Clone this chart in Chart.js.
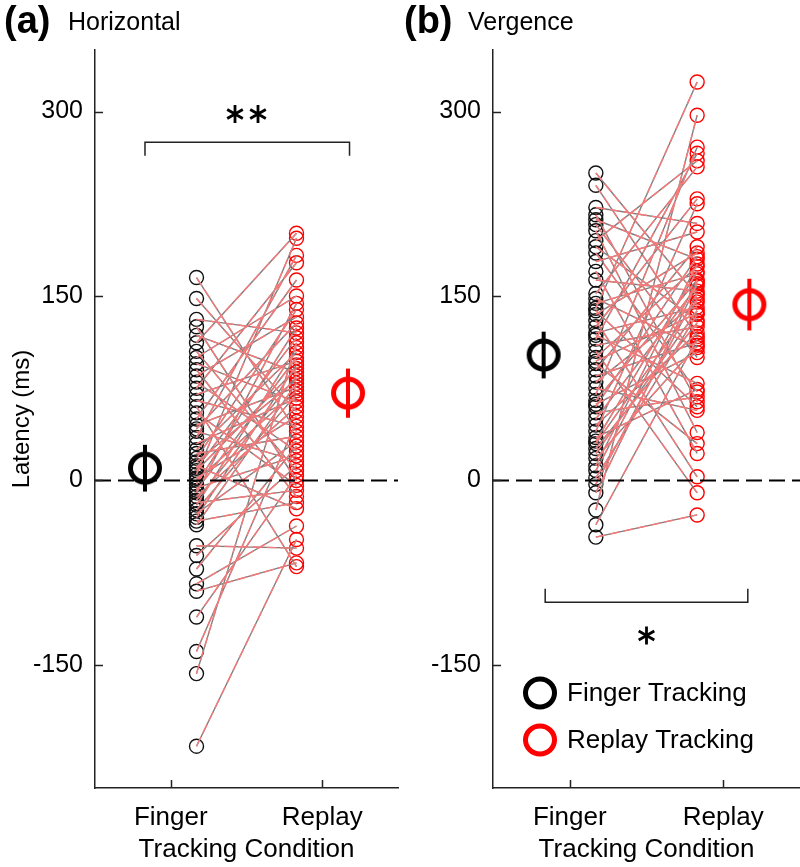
<!DOCTYPE html>
<html>
<head>
<meta charset="utf-8">
<script src="https://cdn.jsdelivr.net/npm/chart.js@4.4.1/dist/chart.umd.min.js"></script>
<style>
  html, body { margin: 0; padding: 0; background: #fff; }
  #wrap { position: relative; width: 800px; height: 867px; }
  .panel { position: absolute; top: 0; width: 400px; height: 867px; }
</style>
</head>
<body>
<div id="wrap">
  <div class="panel" style="left:0"><canvas id="chartA" width="400" height="867"></canvas></div>
  <div class="panel" style="left:400px"><canvas id="chartB" width="400" height="867"></canvas></div>
</div>
<script>
const categories = ["Finger", "Replay"];
const yTicks = [-150, 0, 150, 300];

// (a) horizontal latency per subject, same order in both arrays (ms)
const horizFinger = [165, 148, 131, 125, 118, 112, 105, 100, 95, 90, 85, 80, 75, 70, 65, 60, 55, 50, 45, 42,
  40, 35, 30, 25, 22, 18, 15, 12, 10, 8, 5, 2, 0, -3, -6, -8, -10, -13, -16, -18,
  -20, -24, -27, -30, -33, -36, -53, -61, -72, -84, -90, -111, -139, -157, -216];
const horizReplay = [40, 56, 120, 0, 88, 201, 8, 150, 64, -13, 133, 24, 177, 97, 44, -70, -4, 163, 76, 128,
  16, 183, 67, 104, 36, 139, 82, -23, 116, 91, 197, 52, 73, 124, 20, 100, 144, 60, 85, -8,
  108, 70, 32, 94, -18, 79, -55, 12, 28, -37, -67, 4, 48, 112, -48];

// (b) vergence latency per subject (ms)
const vergFinger = [250, 240, 222, 216, 212, 208, 203, 195, 190, 185, 178, 170, 163, 152, 148, 144, 140, 138, 135, 130,
  125, 120, 118, 115, 110, 105, 100, 97, 95, 90, 85, 80, 75, 70, 65, 62, 60, 55, 50, 45,
  40, 35, 32, 30, 26, 22, 18, 12, 8, 2, -3, -10, -24, -36, -46];
const vergReplay = [150, 117, 209, 64, 180, 100, 39, 260, 130, 72, 202, 22, 154, 255, 108, 168, 324, 60, 185, 3,
  229, 141, 79, 266, 125, -10, 174, 136, 30, 190, 112, 145, 57, 271, 163, 104, 182, 68, 158, 120,
  225, 74, 170, 147, 128, 138, 110, 176, 162, 135, 152, 160, 297, 115, -28];

// group mean and error bar half-length (ms)
const horizMeans = [10, 71];
const horizErr = [19, 20];
const vergMeans = [102, 143];
const vergErr = [19, 21];

const subjX = [1.17, 1.83];
const meanX = [0.83, 2.17];
const FONT = "'Liberation Sans', Arial, sans-serif";

function ringImage(color) {
  const c = document.createElement("canvas");
  c.width = 40; c.height = 40;
  const g = c.getContext("2d");
  g.strokeStyle = color;
  g.lineWidth = 5;
  g.beginPath();
  g.ellipse(20, 20, 14.5, 14, 0, 0, Math.PI * 2);
  g.stroke();
  return c;
}
const ringBlack = ringImage("#000");
const ringRed = ringImage("#ff0000");

function pairLines(f, r) {
  const pts = [];
  f.forEach((v, i) => {
    pts.push({x: subjX[0], y: v}, {x: subjX[1], y: r[i]}, {x: subjX[1], y: null});
  });
  return pts;
}

// six-spoke asterisk like the original figure
function star(ctx, cx, cy) {
  const r = 9;
  ctx.beginPath();
  for (let k = 0; k < 3; k++) {
    const a = Math.PI / 2 + k * Math.PI / 3;
    ctx.moveTo(cx - r * Math.cos(a), cy - r * Math.sin(a));
    ctx.lineTo(cx + r * Math.cos(a), cy + r * Math.sin(a));
  }
  ctx.stroke();
}

const annot = {
  id: "annot",
  afterDraw(chart, args, opts) {
    const ctx = chart.ctx;
    const xs = chart.scales.x, ys = chart.scales.y;
    const area = chart.chartArea;
    ctx.save();
    // inward tick marks
    ctx.strokeStyle = "#222";
    ctx.lineWidth = 1.5;
    ctx.beginPath();
    yTicks.forEach(v => {
      const p = Math.round(ys.getPixelForValue(v)) + 0.5;
      ctx.moveTo(area.left, p); ctx.lineTo(area.left + 8, p);
    });
    [1, 2].forEach(v => {
      const p = Math.round(xs.getPixelForValue(v)) + 0.5;
      ctx.moveTo(p, area.bottom); ctx.lineTo(p, area.bottom - 8);
    });
    ctx.stroke();

    // panel label
    ctx.fillStyle = "#000";
    ctx.textBaseline = "alphabetic";
    ctx.textAlign = "left";
    ctx.font = "bold 38px " + FONT;
    ctx.fillText(opts.tag, 4, 33);
    ctx.font = "25px " + FONT;
    ctx.fillText(opts.name, 68, 30);

    // significance stars
    ctx.strokeStyle = "#000";
    ctx.lineWidth = 2.8;
    const sx = xs.getPixelForValue(1.5), sy = ys.getPixelForValue(opts.starY);
    for (let k = 0; k < opts.stars; k++) {
      star(ctx, sx + (k - (opts.stars - 1) / 2) * 23, sy);
    }

    if (opts.legend) {
      const items = [["Finger Tracking", ringBlack, 693], ["Replay Tracking", ringRed, 740]];
      ctx.textAlign = "left";
      ctx.textBaseline = "middle";
      ctx.font = "26px " + FONT;
      items.forEach(([label, img, y]) => {
        ctx.drawImage(img, 140 - img.width / 2, y - img.height / 2);
        ctx.fillText(label, 167, y + 1);
      });
    }
    ctx.restore();
  }
};

function buildChart(id, finger, replay, means, err, cfg) {
  const datasets = [
    {
      data: [{x: 0.5, y: 0}, {x: 2.5, y: 0}],
      showLine: true, borderColor: "#000", borderWidth: 2, borderDash: [16, 7],
      pointRadius: 0, order: 1
    },
    {
      data: pairLines(finger, replay),
      showLine: true, spanGaps: false, borderColor: "rgb(125,125,125)", borderWidth: 1.4,
      pointRadius: 0, order: 3
    },
    {
      data: pairLines(finger, replay),
      showLine: true, spanGaps: false, borderColor: "rgb(246,122,122)", borderWidth: 1.4,
      borderDash: [10, 4], pointRadius: 0, order: 2
    },
    {
      data: finger.map(v => ({x: subjX[0], y: v})),
      pointRadius: 7, borderWidth: 1.4, borderColor: "#111", backgroundColor: "rgba(0,0,0,0)", order: 5
    },
    {
      data: replay.map(v => ({x: subjX[1], y: v})),
      pointRadius: 7, borderWidth: 1.4, borderColor: "#ff0000", backgroundColor: "rgba(0,0,0,0)", order: 4
    },
    {
      data: [{x: meanX[0], y: means[0] - err[0]}, {x: meanX[0], y: means[0] + err[0]}],
      showLine: true, borderColor: "#000", borderWidth: 4, pointRadius: 0, order: 1
    },
    {
      data: [{x: meanX[1], y: means[1] - err[1]}, {x: meanX[1], y: means[1] + err[1]}],
      showLine: true, borderColor: "#ff0000", borderWidth: 4, pointRadius: 0, order: 1
    },
    {
      data: [{x: meanX[0], y: means[0]}],
      pointStyle: ringBlack, pointRadius: 18, order: 0
    },
    {
      data: [{x: meanX[1], y: means[1]}],
      pointStyle: ringRed, pointRadius: 18, order: 0
    },
    {
      data: cfg.bracket,
      showLine: true, borderColor: "#222", borderWidth: 1.5, pointRadius: 0, order: 1
    }
  ];

  return new Chart(document.getElementById(id), {
    type: "scatter",
    data: {datasets: datasets},
    options: {
      responsive: false,
      animation: false,
      events: [],
      layout: {autoPadding: false, padding: {top: 50, right: cfg.padRight, left: 0, bottom: 0}},
      plugins: {
        legend: {display: false},
        tooltip: {enabled: false},
        annot: cfg.annot
      },
      scales: {
        x: {
          type: "linear", min: 0.5, max: 2.5,
          afterBuildTicks: s => { s.ticks = [{value: 1}, {value: 2}]; },
          afterFit: s => { s.height = 79; s.paddingLeft = 0; s.paddingRight = 0; },
          grid: {display: false, drawTicks: false},
          border: {display: true, color: "#222", width: 1.5},
          ticks: {
            padding: 14, color: "#000", font: {family: FONT, size: 26},
            callback: v => categories[v - 1]
          },
          title: {
            display: true, text: "Tracking Condition", color: "#000",
            font: {family: FONT, size: 26}, padding: {top: 0, bottom: 2}
          }
        },
        y: {
          type: "linear", min: -250, max: 350,
          afterBuildTicks: s => { s.ticks = yTicks.map(v => ({value: v})); },
          afterFit: s => { s.width = cfg.axisWidth; },
          grid: {display: false, drawTicks: false},
          border: {display: true, color: "#222", width: 1.5},
          ticks: {padding: 12, color: "#000", font: {family: FONT, size: 25}},
          title: {
            display: cfg.yTitle, text: "Latency (ms)", color: "#000",
            font: {family: FONT, size: 24}, padding: {top: 8, bottom: 0}
          }
        }
      }
    },
    plugins: [annot]
  });
}

buildChart("chartA", horizFinger, horizReplay, horizMeans, horizErr, {
  padRight: 2, axisWidth: 95, yTitle: true,
  bracket: [{x: 0.83, y: 264}, {x: 0.83, y: 275}, {x: 2.18, y: 275}, {x: 2.18, y: 264}],
  annot: {tag: "(a)", name: "Horizontal", stars: 2, starY: 298, legend: false}
});

buildChart("chartB", vergFinger, vergReplay, vergMeans, vergErr, {
  padRight: 0, axisWidth: 93, yTitle: false,
  bracket: [{x: 0.84, y: -88}, {x: 0.84, y: -99}, {x: 2.16, y: -99}, {x: 2.16, y: -88}],
  annot: {tag: "(b)", name: "Vergence", stars: 1, starY: -126, legend: true}
});
</script>
</body>
</html>
